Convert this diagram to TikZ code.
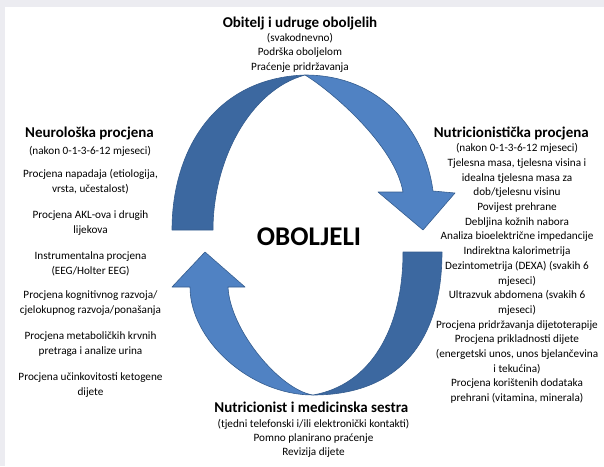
\documentclass[tikz,border=0pt]{standalone}
\usepackage{fontspec}
\setmainfont{Carlito}

\definecolor{bandgray}{RGB}{236,236,241}
\definecolor{arrowdark}{RGB}{60,104,160}
\definecolor{arrowlight}{RGB}{80,130,195}
\definecolor{arrowrim}{RGB}{52,92,142}

\tikzset{
	head/.style={font=\fontsize{15}{17}\selectfont\bfseries, anchor=base, inner sep=0pt},
	body/.style={font=\fontsize{11.2}{14.7}\selectfont, align=center, anchor=base, inner sep=0pt},
	darkpart/.style={fill=arrowdark, draw=arrowrim, line width=0.6pt, line join=round},
	lightpart/.style={fill=arrowlight, draw=arrowrim, line width=0.6pt, line join=round}
}

\begin{document}
\begin{tikzpicture}[x=1pt,y=-1pt]
		\useasboundingbox (0,0) rectangle (604,466);
		\fill[bandgray] (0,0) rectangle (604,7);
		\fill[bandgray] (0,0) rectangle (5,466);

		% upper arrow
		\filldraw[darkpart] (172,230) .. controls (172,150) and (215,78) .. (305,75)
			.. controls (250,90) and (213,160) .. (213,230) -- cycle;
		\filldraw[lightpart] (305,75) .. controls (380,75) and (425,130) .. (433,191)
			-- (455,193) -- (423,230) -- (378,192) -- (403,192)
			.. controls (395,145) and (330,90) .. (305,75) -- cycle;

		% lower arrow
		\filldraw[darkpart] (442,252) .. controls (442,340) and (400,395) .. (313,395)
			.. controls (370,385) and (403,330) .. (403,252) -- cycle;
		\filldraw[lightpart] (313,395) .. controls (250,395) and (190,340) .. (190,287)
			-- (172,287) -- (205,252) -- (245,287) -- (228,287)
			.. controls (230,330) and (280,390) .. (313,395) -- cycle;

		\node[anchor=base, inner sep=0pt, font=\fontsize{27}{27}\selectfont\bfseries] (patient) at (309,245) {OBOLJELI};

		% top (base = last line)
		\node[head] (family) at (300,27) {Obitelj i udruge oboljelih};
		\node[body] (familytxt) at (300,70) {(svakodnevno)\\[-0.5pt]Podrška oboljelom\\[-0.5pt]Praćenje pridržavanja};

		% left
		\node[head] (neuro) at (89.5,137) {Neurološka procjena};
		\node[body] (neuro0) at (90,154) {(nakon 0-1-3-6-12 mjeseci)};
		\node[body] (neuro1) at (90.5,192) {Procjena napadaja (etiologija,\\vrsta, učestalost)};
		\node[body] (neuro2) at (90.5,233) {Procjena AKL-ova i drugih\\lijekova};
		\node[body] (neuro3) at (90.5,274) {Instrumentalna procjena\\(EEG/Holter EEG)};
		\node[body] (neuro4) at (90.5,313) {Procjena kognitivnog razvoja/\\cjelokupnog razvoja/ponašanja};
		\node[body] (neuro5) at (90.5,354) {Procjena metaboličkih krvnih\\pretraga i analize urina};
		\node[body] (neuro6) at (90.5,395) {Procjena učinkovitosti ketogene\\dijete};

		% right
		\node[head] (nutri) at (511.3,137) {Nutricionistička procjena};
		\node[body] (nutritxt) at (517,401.6) {(nakon 0-1-3-6-12 mjeseci)\\Tjelesna masa, tjelesna visina i\\idealna tjelesna masa za\\dob/tjelesnu visinu\\Povijest prehrane\\Debljina kožnih nabora\\Analiza bioelektrične impedancije\\Indirektna kalorimetrija\\Dezintometrija (DEXA) (svakih 6\\mjeseci)\\Ultrazvuk abdomena (svakih 6\\mjeseci)\\Procjena pridržavanja dijetoterapije\\Procjena prikladnosti dijete\\(energetski unos, unos bjelančevina\\i tekućina)\\Procjena korištenih dodataka\\prehrani (vitamina, minerala)};

		% bottom
		\node[head] (nurse) at (311.3,412.8) {Nutricionist i medicinska sestra};
		\node[body] (nursetxt) at (313.5,455) {(tjedni telefonski i/ili elektronički kontakti)\\[-0.8pt]Pomno planirano praćenje\\[-0.8pt]Revizija dijete};
	\end{tikzpicture}
\end{document}
